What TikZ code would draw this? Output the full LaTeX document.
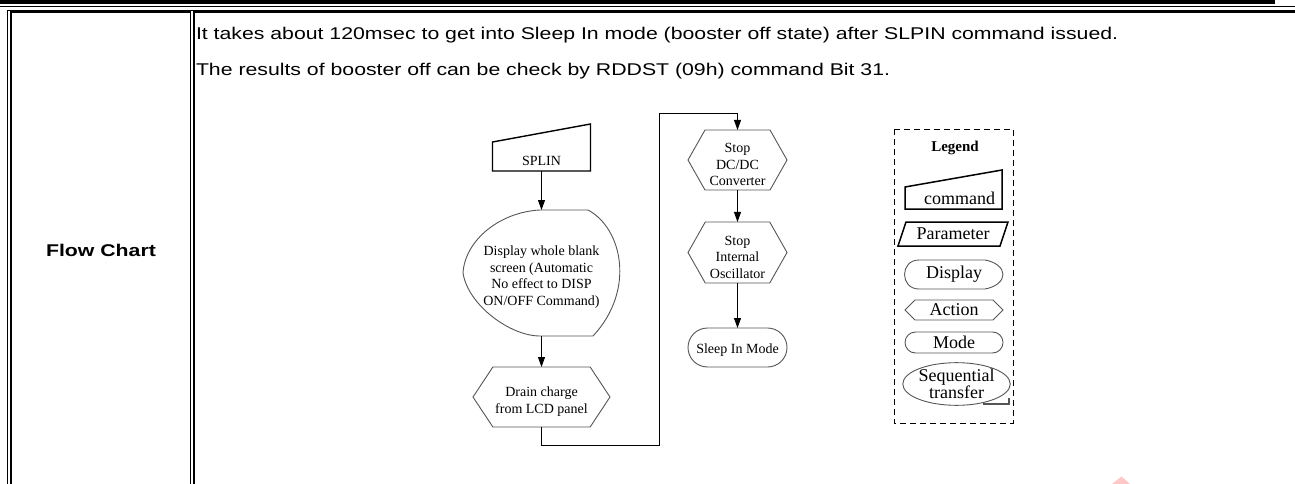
\documentclass[tikz,border=0pt]{standalone}
\usepackage{fontspec}
\setmainfont{Liberation Serif}
\setsansfont{Liberation Sans}
\newfontfamily\widesans{Liberation Sans}[FakeStretch=1.25]
\usepackage{tikz}
\usetikzlibrary{arrows.meta, positioning, shapes.geometric, shapes.misc, shapes.symbols}
\definecolor{rule_grey}{RGB}{85,85,85}
\definecolor{mark_pink}{RGB}{255,200,200}
\newcommand{\fcgap}{\rule{0pt}{19pt}}

\begin{document}
\begin{tikzpicture}[
    x=1pt, y=-1pt,
    >={Triangle[length=10pt, width=7pt]},
    every node/.style={font=\fontsize{14}{16.5}\selectfont, inner sep=0pt, outer sep=0pt, align=center},
    body/.style={font=\widesans\fontsize{17}{20}\selectfont, anchor=base west},
    frame/.style={line width=1.5pt},
    cmdbox/.style={rectangle, minimum width=98pt},
    hexbox/.style={signal, signal to=west and east, draw=rule_grey, line width=0.9pt},
    modebox/.style={rounded rectangle, draw=rule_grey, line width=0.9pt},
    legtext/.style={font=\fontsize{18}{14}\selectfont},
    arr/.style={->, line width=0.9pt},
]
\useasboundingbox (0,0) rectangle (1295,484);

% table rules
\fill (0,0) rectangle (1275,4);
\draw[frame] (0,6.5) -- (1295,6.5);
\draw[frame] (7.5,484) -- (7.5,10.5) -- (1295,10.5);
\draw[frame] (11,484) -- (11,12) -- (190.5,12) -- (190.5,484);
\draw[frame] (194,484) -- (194,12) -- (1295,12);

\node[font=\widesans\bfseries\fontsize{17}{20}\selectfont] (title) at (101,250) {Flow Chart};
\node[body] (note1) at (196,39.5) {It takes about 120msec to get into Sleep In mode (booster off state) after SLPIN command issued.};
\node[body] (note2) at (196,75.5) {The results of booster off can be check by RDDST (09h) command Bit 31.};

% flow chart
\node[cmdbox, minimum height=26pt] (splin) at (541.5,158) {\rule{0pt}{15pt}SPLIN};
\draw[line width=1.4pt] (splin.south west) -- (splin.south east)
    -- ([yshift=21pt]splin.north east) -- ([yshift=3pt]splin.north west) -- cycle;

\node[minimum width=157pt, minimum height=126pt] (disp) at (541.5,273) {};
\node (disptext) at (541.5,277) {Display whole blank\\screen (Automatic\\No effect to DISP\\ON/OFF Command)};
\draw[rule_grey, line width=0.9pt] (540,210) -- (588,210)
    .. controls (622,228) and (636,290) .. (593,336) -- (540,336)
    .. controls (510,336) and (468,305) .. (463,273)
    .. controls (465,240) and (500,212) .. (540,210);

\node[hexbox, minimum width=137pt, minimum height=60pt, signal pointer angle=113] (drain) at (541.5,397)
    {\fcgap Drain charge\\from LCD panel};

\node[hexbox, minimum width=99pt, minimum height=60pt, signal pointer angle=121] (stopdc) at (737.5,160)
    {\fcgap Stop\\DC/DC\\Converter};
\node[hexbox, minimum width=99pt, minimum height=61pt, signal pointer angle=121] (stoposc) at (737.5,252.5)
    {\fcgap Stop\\Internal\\Oscillator};
\node[modebox, minimum width=99pt, minimum height=39pt] (sleep) at (737.5,347.5) {\rule{0pt}{15pt}Sleep In Mode};

\coordinate (turnlow) at (659,445);
\coordinate (turnhigh) at (659,113);

\draw[arr] (splin.south) -- (disp.north);
\draw[arr] (disp.south) -- (drain.north);
\draw[arr] (drain.south) |- (turnlow) -- (turnhigh) -| (stopdc.north);
\draw[arr] (stopdc) -- (stoposc);
\draw[arr] (stoposc) -- (sleep);

% legend
\draw[dashed, dash pattern=on 6pt off 4pt, line width=0.9pt] (894,129) rectangle (1013,423);
\node[font=\bfseries\fontsize{15}{16}\selectfont] (legtitle) at (955,148) {Legend};

\node[cmdbox, legtext, minimum width=97pt, minimum height=22pt] (legcmd) at (953.5,198) {\hspace*{12pt}command};
\draw[line width=1.5pt] (legcmd.south west) -- (legcmd.south east)
    -- ([yshift=17pt]legcmd.north east) -- (legcmd.north west) -- cycle;

\node[legtext, minimum width=102pt, minimum height=24pt] (legpar) at (953,234) {Parameter};
\draw[line width=1.5pt] ([xshift=-4pt]legpar.south west) -- ([xshift=4pt]legpar.north west)
    -- ([xshift=4pt]legpar.north east) -- ([xshift=-4pt]legpar.south east) -- cycle;

\node[legtext, minimum width=98pt, minimum height=29pt] (legdisp) at (954,274.5) {Display};
\draw[rule_grey, line width=0.9pt] (919,260) -- (985,260)
    .. controls (996,262) and (1003,268) .. (1003,274.5)
    .. controls (1003,281) and (996,287) .. (985,289) -- (919,289)
    .. controls (899.7,289) and (899.7,260) .. (919,260);

\node[hexbox, legtext, minimum width=98pt, minimum height=20pt, signal pointer angle=90] (legact) at (954,310) {Action};
\node[modebox, legtext, minimum width=98pt, minimum height=21pt] (legmode) at (954,342.5) {Mode};
\node[ellipse, draw=rule_grey, line width=0.9pt, legtext, minimum width=107pt, minimum height=38pt] (legseq) at (956.5,384)
    {Sequential\\transfer};
\draw[rule_grey, line width=1.2pt] (983,404) -- (1009,404) -- (1009,398);

% watermark corner
\fill[mark_pink] (1112,484) -- (1121.5,476.5) -- (1130,484) -- cycle;
\end{tikzpicture}
\end{document}
